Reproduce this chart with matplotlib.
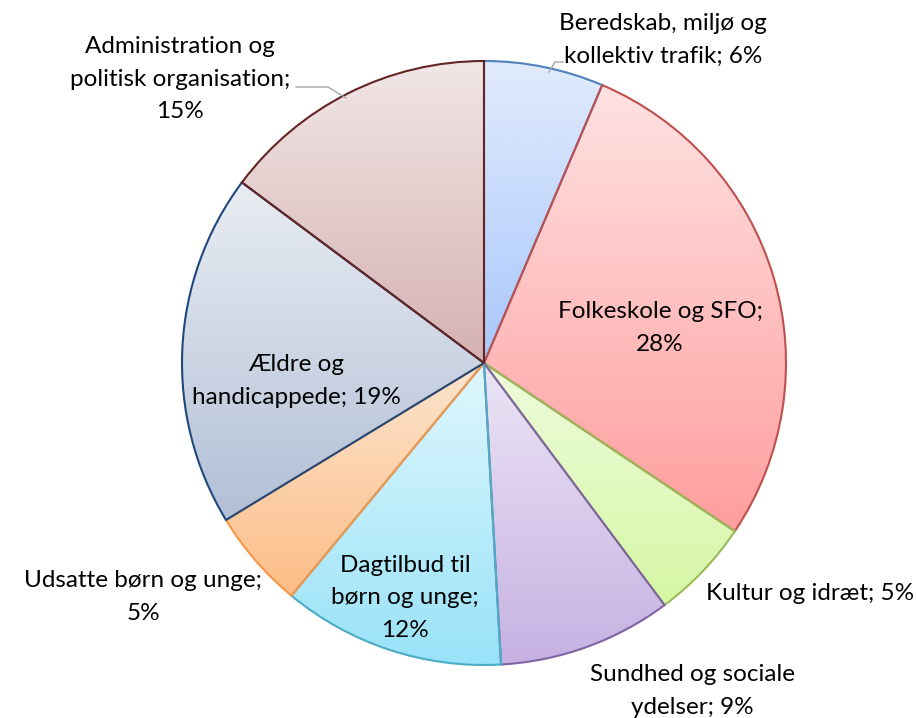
import numpy as np
import matplotlib
matplotlib.use("Agg")
import matplotlib.pyplot as plt
from matplotlib.colors import LinearSegmentedColormap

plt.rcParams["font.family"] = ["Lato", "DejaVu Sans"]

categories = [
    "Beredskab, miljø og\nkollektiv trafik",
    "Folkeskole og SFO",
    "Kultur og idræt",
    "Sundhed og sociale\nydelser",
    "Dagtilbud til\nbørn og unge",
    "Udsatte børn og unge",
    "Ældre og\nhandicappede",
    "Administration og\npolitisk organisation",
]
shares = [6.4, 28.0, 5.4, 9.3, 11.9, 5.3, 18.9, 14.8]
# label text as it appears on the chart (line break before the percentage where used)
label_sep = ["; ", ";\n", "; ", "; ", ";\n", ";\n", "; ", ";\n"]
top_colors = ["#e1ebfc", "#ffe2e2", "#eefcdc", "#ece5f6", "#e0f7fd", "#fde5cf", "#e9edf3", "#f1e6e6"]
bottom_colors = ["#a8c7fc", "#ff9e9e", "#d5f7a4", "#c6b1e2", "#98e2f8", "#fcbd86", "#b2bfd6", "#d6b1b1"]
edge_colors = ["#4f81bd", "#c0504d", "#9bbb59", "#8064a2", "#4bacc6", "#f79646", "#1f497d", "#632523"]

# label anchor positions in pixel coords (x, y from top)
label_pos = [(663, 40), (660, 328), (810, 593), (692, 691), (405, 598), (143, 597), (296, 381), (180, 79)]

W, H = 916, 718
fig = plt.figure(figsize=(W / 100, H / 100), dpi=100)
ax = fig.add_axes([0, 0, 1, 1])

cx, cy, r = 484, H - 363, 302
wedges, _ = ax.pie(shares, startangle=90, counterclock=False, center=(cx, cy), radius=r,
                   frame=True, wedgeprops=dict(linewidth=1.5))
ax.set_xlim(0, W)
ax.set_ylim(0, H)
ax.set_aspect("equal")
ax.axis("off")

grad = np.linspace(0, 1, 256).reshape(-1, 1)
for w, c0, c1, ec in zip(wedges, top_colors, bottom_colors, edge_colors):
    w.set_facecolor("none")
    w.set_edgecolor(ec)
    w.set_zorder(3)
    verts = w.get_path().vertices
    x0, x1 = verts[:, 0].min(), verts[:, 0].max()
    y0, y1 = verts[:, 1].min(), verts[:, 1].max()
    cmap = LinearSegmentedColormap.from_list("g", [c1, c0])
    im = ax.imshow(grad, cmap=cmap, extent=[x0, x1, y0, y1], origin="lower",
                   aspect="auto", zorder=2, interpolation="bilinear")
    im.set_clip_path(w)

ax.set_xlim(0, W)
ax.set_ylim(0, H)

for name, val, sep, (lx, ly) in zip(categories, shares, label_sep, label_pos):
    ax.text(lx, H - ly, f"{name}{sep}{round(val):.0f}%", ha="center", va="center",
            fontsize=17.5, color="#000000", linespacing=1.65, zorder=5)

# leader lines for the two outside labels at the top
ax.plot([549, 555, 563], [H - 72, H - 62, H - 62], color="#a6a6a6", lw=1, zorder=4)
ax.plot([296, 328, 346], [H - 87, H - 87, H - 98], color="#a6a6a6", lw=1, zorder=4)

fig.savefig("out.png", dpi=100, facecolor="white")
